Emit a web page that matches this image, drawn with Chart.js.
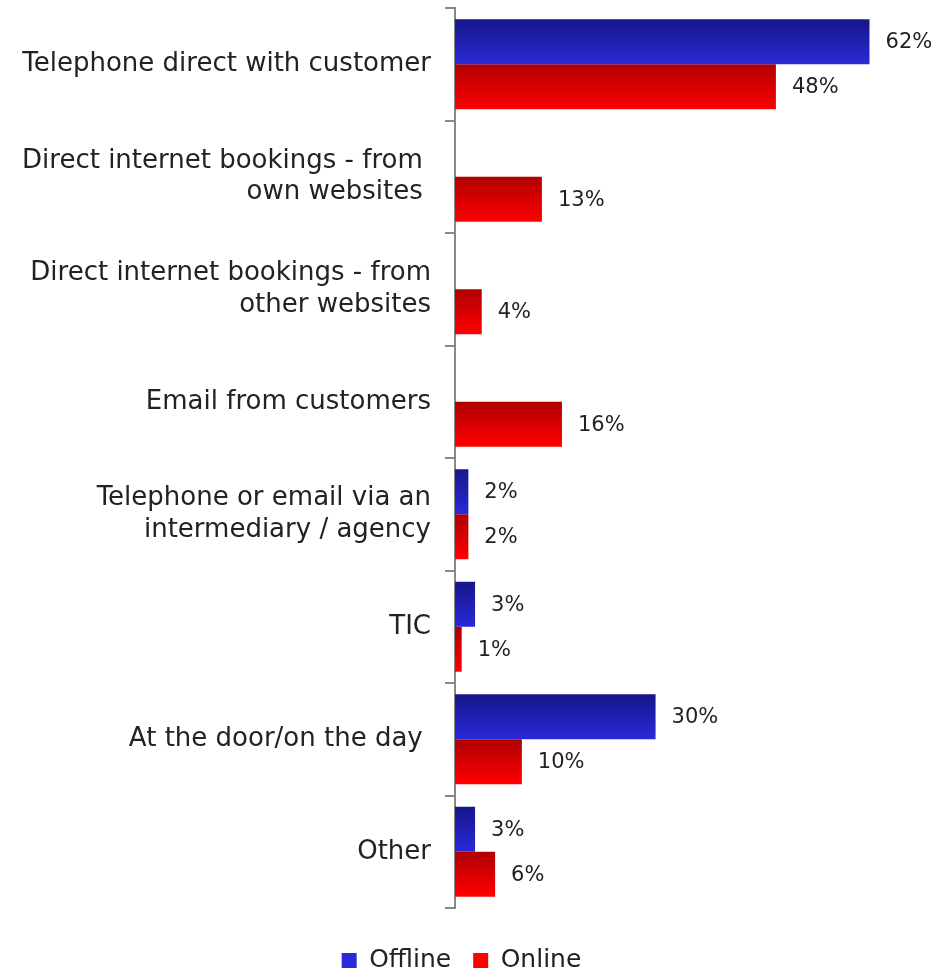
<!DOCTYPE html>
<html>
<head>
<meta charset="utf-8">
<script src="https://cdn.jsdelivr.net/npm/chart.js@4.4.0/dist/chart.umd.min.js"></script>
<style>
  html, body { margin: 0; padding: 0; background: #fff; }
  canvas { display: block; }
</style>
</head>
<body>
<canvas id="bookingChart" width="943" height="972"></canvas>
<script>
// Booking channels, offline vs online share
const categories = [
    ['Telephone direct with customer'],
    ['Direct internet bookings - from ', 'own websites '],
    ['Direct internet bookings - from', 'other websites'],
    ['Email from customers'],
    ['Telephone or email via an', 'intermediary / agency'],
    ['TIC'],
    ['At the door/on the day '],
    ['Other']
];
const offlineValues = [62, null, null, null, 2, 3, 30, 3];
const onlineValues = [48, 13, 4, 16, 2, 1, 10, 6];

const FONT = '"DejaVu Sans", sans-serif';

// Vertical gradient per bar, dark at the top edge
const barGradients = {
    id: 'barGradients',
    beforeDatasetsDraw(chart) {
        const ctx = chart.ctx;
        chart.data.datasets.forEach((ds, i) => {
            const meta = chart.getDatasetMeta(i);
            meta.data.forEach(bar => {
                const top = bar.y - bar.height / 2;
                const bottom = bar.y + bar.height / 2;
                const g = ctx.createLinearGradient(0, top, 0, bottom);
                g.addColorStop(0, ds.gradTop);
                g.addColorStop(1, ds.gradBottom);
                // options are shared between bars, so give each its own copy
                bar.options = Object.assign({}, bar.options, { backgroundColor: g });
            });
        });
    }
};

// Percentage labels to the right of each bar
const valueLabels = {
    id: 'valueLabels',
    afterDatasetsDraw(chart) {
        const ctx = chart.ctx;
        ctx.save();
        ctx.font = '21px ' + FONT;
        ctx.fillStyle = '#222';
        ctx.textAlign = 'left';
        ctx.textBaseline = 'middle';
        chart.data.datasets.forEach((ds, i) => {
            const meta = chart.getDatasetMeta(i);
            meta.data.forEach((bar, j) => {
                const v = ds.data[j];
                if (v === null || v === undefined) return;
                ctx.fillText(v + '%', bar.x + 16, bar.y + 1);
            });
        });
        ctx.restore();
    }
};

// Fixed legend height, legend row pushed down a bit from the plot
const legendSpacing = {
    id: 'legendSpacing',
    beforeLayout(chart) {
        const legend = chart.legend;
        if (legend && !legend._fixedFit) {
            const fit = legend.fit;
            legend.fit = function() {
                fit.call(this);
                this.height = 64;
            };
            legend._fixedFit = true;
        }
    },
    afterLayout(chart) {
        const legend = chart.legend;
        if (legend) {
            legend.top += 18;
            legend.bottom += 18;
        }
    }
};

new Chart(document.getElementById('bookingChart'), {
    type: 'bar',
    data: {
        labels: categories,
        datasets: [{
            label: 'Offline',
            data: offlineValues,
            backgroundColor: '#2626c8',
            gradTop: '#16168a',
            gradBottom: '#2a2ad8',
            categoryPercentage: 0.8,
            barPercentage: 1.0
        }, {
            label: 'Online',
            data: onlineValues,
            backgroundColor: '#e60000',
            gradTop: '#b00000',
            gradBottom: '#ff0000',
            categoryPercentage: 0.8,
            barPercentage: 1.0
        }]
    },
    options: {
        indexAxis: 'y',
        responsive: false,
        animation: false,
        layout: {
            padding: { top: 8, right: 20, bottom: 0, left: 0 }
        },
        plugins: {
            legend: {
                position: 'bottom',
                labels: {
                    color: '#222',
                    font: { family: FONT, size: 25 },
                    boxWidth: 15,
                    boxHeight: 15,
                    padding: 22,
                    generateLabels(chart) {
                        return chart.data.datasets.map((ds, i) => ({
                            text: ds.label,
                            fillStyle: ds.gradBottom,
                            strokeStyle: ds.gradBottom,
                            lineWidth: 0,
                            fontColor: '#222',
                            datasetIndex: i
                        }));
                    }
                }
            },
            tooltip: { enabled: false }
        },
        scales: {
            x: {
                display: false,
                min: 0,
                max: 70
            },
            y: {
                afterFit(scale) {
                    scale.width = 455;
                    scale.paddingTop = 0;
                    scale.paddingBottom = 0;
                },
                border: { color: '#888', width: 2 },
                grid: {
                    drawOnChartArea: false,
                    color: '#888',
                    lineWidth: 2,
                    tickLength: 10,
                    offset: true
                },
                ticks: {
                    color: '#222',
                    padding: 14,
                    font: { family: FONT, size: 26, lineHeight: 1.2 }
                }
            }
        }
    },
    plugins: [barGradients, valueLabels, legendSpacing]
});
</script>
</body>
</html>
